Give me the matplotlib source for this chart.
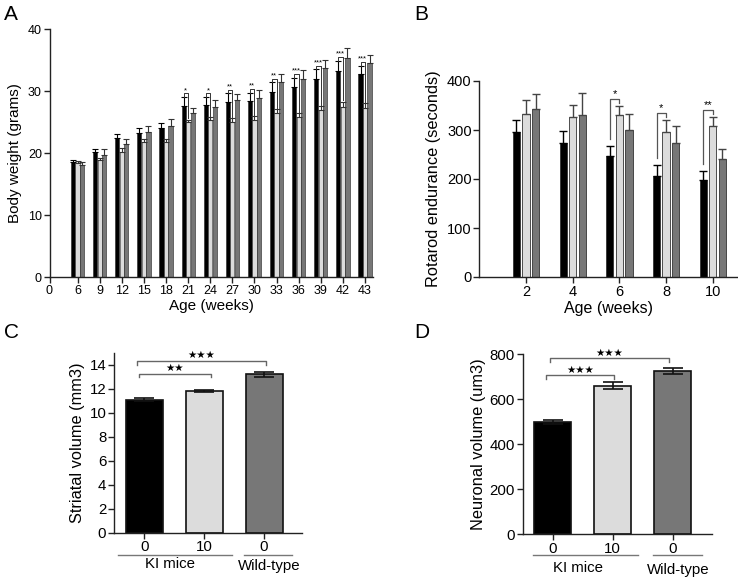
import matplotlib
matplotlib.use("Agg")
import matplotlib.pyplot as plt
import matplotlib.transforms as mtransforms
import numpy as np

plt.rcParams['font.family'] = ['Liberation Sans', 'DejaVu Sans']

# ---------------- data ----------------
# Panel A: body weight
weeks_A = ['6', '9', '12', '15', '18', '21', '24', '27', '30', '33', '36', '39', '42', '43']
bw_ki0 = [18.6, 20.2, 22.5, 23.3, 24.0, 27.6, 27.8, 28.3, 28.4, 29.9, 30.7, 32.0, 33.3, 32.7]
bw_ki0_err = [0.3, 0.4, 0.6, 0.7, 0.8, 1.4, 1.2, 1.3, 1.3, 1.5, 1.4, 1.5, 1.6, 1.4]
bw_ki10 = [18.4, 18.8, 20.2, 21.7, 21.8, 25.0, 25.3, 25.0, 25.4, 26.4, 25.8, 26.9, 27.5, 27.3]
bw_ki10_err = [0.3, 0.4, 0.6, 0.5, 0.5, 0.4, 0.5, 0.6, 0.5, 0.7, 0.6, 0.7, 0.8, 0.7]
bw_wt = [18.0, 19.7, 21.5, 23.4, 24.3, 26.4, 27.4, 28.5, 28.8, 31.5, 32.0, 33.7, 35.3, 34.5]
bw_wt_err = [0.5, 0.9, 0.8, 1.0, 1.2, 0.9, 1.1, 1.0, 1.3, 1.2, 1.4, 1.3, 1.7, 1.3]
sig_A = ['', '', '', '', '', '*', '*', '**', '**', '**', '***', '***', '***', '***']

# Panel B: rotarod
weeks_B = [2, 4, 6, 8, 10]
ro_ki0 = [295, 274, 246, 207, 197]
ro_ki0_err = [25, 24, 22, 21, 19]
ro_ki10 = [332, 327, 330, 295, 309]
ro_ki10_err = [30, 24, 20, 26, 18]
ro_wt = [342, 330, 301, 273, 241]
ro_wt_err = [32, 46, 31, 35, 20]
sig_B = ['', '', '*', '*', '**']

# Panels C / D
dose_labels = ['0', '10', '0']
striatal = [11.1, 11.8, 13.2]
striatal_err = [0.1, 0.1, 0.22]
neuronal = [498, 660, 726]
neuronal_err = [9, 15, 13]
sig_C = [('★★', 0, 1), ('★★★', 0, 2)]
sig_D = [('★★★', 0, 1), ('★★★', 0, 2)]

colors = ['#000000', '#dcdcdc', '#777777']

W, H = 738, 578
fig = plt.figure(figsize=(W / 100, H / 100), dpi=100)


def ax_px(left, right, top, bottom):
    return fig.add_axes([left / W, 1 - bottom / H, (right - left) / W, (bottom - top) / H])


def style(ax, fs):
    for s in ['top', 'right']:
        ax.spines[s].set_visible(False)
    for s in ['left', 'bottom']:
        ax.spines[s].set_linewidth(1.0)
        ax.spines[s].set_color('#222222')
    ax.tick_params(direction='out', length=4, width=1.0, color='#222222', labelsize=fs, pad=1.5)


# ---------------- Panel A ----------------
axA = ax_px(49.5, 373, 29, 277)
xA = np.arange(len(weeks_A))
off, bw = 0.205, 0.19
errkw = dict(lw=0.8, capsize=2.2, capthick=0.8)
for dx, vals, errs, c in [(-off, bw_ki0, bw_ki0_err, colors[0]),
                          (0, bw_ki10, bw_ki10_err, colors[1]),
                          (off, bw_wt, bw_wt_err, colors[2])]:
    axA.bar(xA + dx, vals, bw, color=c, edgecolor='#222222', linewidth=0.4, zorder=2)
    ecol = '#000000' if c == colors[0] else '#333333'
    axA.errorbar(xA + dx, vals, yerr=[np.zeros(len(vals)), errs], fmt='none',
                 ecolor=ecol, zorder=3, **errkw)
for i, s in enumerate(sig_A):
    if not s:
        continue
    top_b = bw_ki0[i] + bw_ki0_err[i]
    top_l = bw_ki10[i] + bw_ki10_err[i]
    h = top_b + 0.6
    axA.plot([xA[i] - off, xA[i] - off, xA[i], xA[i]], [top_b, h, h, top_l + 0.2],
             color='#333333', lw=0.7, zorder=4, clip_on=False)
    axA.text(xA[i] - off / 2, h - 0.1, s, ha='center', va='bottom', fontsize=5.5, zorder=4)
axA.set_xlim(-1.27, 13.36)
axA.set_ylim(0, 40)
axA.set_yticks([0, 10, 20, 30, 40])
axA.set_xticks([-1.27] + list(xA))
axA.set_xticklabels(['0'] + weeks_A)
style(axA, 9)
axA.set_ylabel('Body weight (grams)', fontsize=11, labelpad=4)
axA.set_xlabel('Age (weeks)', fontsize=11, labelpad=2)

# ---------------- Panel B ----------------
axB = ax_px(479.3, 738, 81, 277)
xB = np.array(weeks_B, dtype=float)
offB, bwB = 0.41, 0.31
errkwB = dict(lw=1.0, capsize=3.2, capthick=1.0)
for dx, vals, errs, c in [(-offB, ro_ki0, ro_ki0_err, colors[0]),
                          (0, ro_ki10, ro_ki10_err, colors[1]),
                          (offB, ro_wt, ro_wt_err, colors[2])]:
    axB.bar(xB + dx, vals, bwB, color=c, edgecolor='#333333', linewidth=0.6, zorder=2)
    ecol = '#000000' if c == colors[0] else '#444444'
    axB.errorbar(xB + dx, vals, yerr=[np.zeros(len(vals)), errs], fmt='none',
                 ecolor=ecol, zorder=3, **errkwB)
for i, s in enumerate(sig_B):
    if not s:
        continue
    top_b = ro_ki0[i] + ro_ki0_err[i]
    top_l = ro_ki10[i] + ro_ki10_err[i]
    h = top_l + 14
    axB.plot([xB[i] - offB, xB[i] - offB, xB[i], xB[i]], [top_b + 14, h, h, top_l + 6],
             color='#555555', lw=0.9, zorder=4, clip_on=False)
    axB.text(xB[i] - offB / 2, h, s, ha='center', va='bottom', fontsize=8, zorder=4)
axB.set_xlim(0, 11.08)
axB.set_ylim(0, 400)
axB.set_yticks([0, 100, 200, 300, 400])
axB.set_xticks(weeks_B)
style(axB, 10.5)
axB.set_ylabel('Rotarod endurance (seconds)', fontsize=11.8, labelpad=4)
axB.set_xlabel('Age (weeks)', fontsize=11.5, labelpad=2)


# ---------------- Panels C, D ----------------
def vol_panel(ax, vals, errs, sigs, ylim, yticks, ylabel, brk, groups):
    x = np.arange(3)
    ax.bar(x, vals, 0.62, color=colors, edgecolor='#111111', linewidth=1.2, zorder=2)
    ax.errorbar(x, vals, yerr=errs, fmt='none', ecolor='#111111', elinewidth=1.2,
                capsize=7, capthick=1.2, zorder=3)
    for (s, a, b), (xa, xb, h, d, hs) in zip(sigs, brk):
        ax.plot([xa, xa, xb, xb], [h - d, h, h, h - d], color='#666666', lw=1.0,
                clip_on=False)
        ax.text((xa + xb) / 2, hs, s, ha='center', va='center', fontsize=7.5,
                family=['DejaVu Sans'], clip_on=False)
    ax.set_xlim(-0.51, 2.63)
    ax.set_ylim(*ylim)
    ax.set_yticks(yticks)
    ax.set_xticks(x)
    ax.set_xticklabels(dose_labels)
    style(ax, 10.8)
    ax.set_ylabel(ylabel, fontsize=11.8, labelpad=3)
    trans = mtransforms.blended_transform_factory(ax.transData, ax.transAxes)
    for (x0, x1, xt, ly, ty, txt) in groups:
        ax.plot([x0, x1], [ly, ly], color='#777777', lw=1.0, transform=trans, clip_on=False)
        ax.text(xt, ty, txt, ha='center', va='center', fontsize=10.8, transform=trans)


axC = ax_px(114, 301.7, 352.7, 532.7)
vol_panel(axC, striatal, striatal_err,
          sig_C, (0, 15), [0, 2, 4, 6, 8, 10, 12, 14],
          'Striatal volume (mm3)',
          [(-0.1, 1.12, 13.25, 0.3, 13.75), (-0.12, 2.03, 14.3, 0.3, 14.8)],
          [(-0.445, 1.47, 0.435, -0.124, -0.175, 'KI mice'),
           (1.67, 2.47, 2.09, -0.124, -0.185, 'Wild-type')])

axD = ax_px(522.7, 711.7, 354.3, 534)
vol_panel(axD, neuronal, neuronal_err,
          sig_D, (0, 800), [0, 200, 400, 600, 800],
          'Neuronal volume (um3)',
          [(-0.11, 1.02, 708, 20, 730), (-0.05, 1.93, 782, 17, 804)],
          [(-0.33, 1.42, 0.42, -0.117, -0.19, 'KI mice'),
           (1.67, 2.49, 2.09, -0.117, -0.2, 'Wild-type')])
axD.set_xlim(-0.5, 2.65)

# panel letters
for lbl, x, y in [('A', 4, 14), ('B', 414, 14), ('C', 4, 333), ('D', 414, 333)]:
    fig.text(x / W, 1 - y / H, lbl, fontsize=15, ha='left', va='center')

fig.savefig('out.png', dpi=100)
